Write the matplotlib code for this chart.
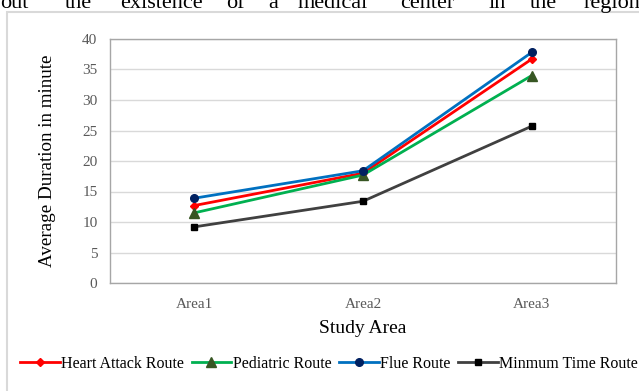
import matplotlib
matplotlib.use("Agg")
import matplotlib.pyplot as plt
from matplotlib.patches import Rectangle

areas = ["Area1", "Area2", "Area3"]
heart_attack = [12.7, 18.0, 36.7]
pediatric = [11.5, 17.7, 34.0]
flue = [13.9, 18.4, 37.8]
minimum_time = [9.2, 13.4, 25.7]
y_ticks = [0, 5, 10, 15, 20, 25, 30, 35, 40]

series = [
    ("Heart Attack Route", heart_attack, "#ff0000", "#ff0000", "D", 4.5),
    ("Pediatric Route", pediatric, "#00b050", "#375623", "^", 6.5),
    ("Flue Route", flue, "#0070c0", "#002060", "o", 5.5),
    ("Minmum Time Route", minimum_time, "#404040", "#000000", "s", 4.0),
]

plt.rcParams["font.family"] = ["Liberation Serif", "DejaVu Serif"]

fig = plt.figure(figsize=(6.39, 3.91), dpi=100)
fig.patch.set_facecolor("white")

# running text of the page above the chart, cut off at the top edge
words = [("out", 0), ("the", 65), ("existence", 120), ("of", 226), ("a", 268),
         ("medical", 298), ("center", 400), ("in", 489), ("the", 530), ("region", 584)]
for w, xp in words:
    fig.text(xp / 639, 1 - 8 / 391, w, fontsize=16, ha="left", va="baseline",
             color="black")

# chart frame
fig.patches.append(Rectangle((7 / 639, -0.05), 1.0, (391 - 12) / 391 + 0.05,
                             transform=fig.transFigure, fill=False,
                             edgecolor="#d9d9d9", linewidth=1.5))

ax = fig.add_axes([110 / 639, 1 - 283 / 391, (616 - 110) / 639, (283 - 39) / 391])
x = range(len(areas))
for name, vals, lc, mc, mk, ms in series:
    ax.plot(x, vals, color=lc, linewidth=2.0, marker=mk, markersize=ms,
            markerfacecolor=mc, markeredgecolor=mc, label=name, zorder=3)

ax.set_xlim(-0.5, len(areas) - 0.5)
ax.set_ylim(0, 40)
ax.set_yticks(y_ticks)
ax.set_xticks(list(x))
ax.set_xticklabels(areas)
ax.yaxis.grid(True, color="#d9d9d9", linewidth=1.0)
ax.set_axisbelow(True)
for s in ax.spines.values():
    s.set_color("#a6a6a6")
    s.set_linewidth(1.0)
ax.tick_params(axis="both", length=0, labelsize=11, colors="#595959")
ax.tick_params(axis="y", pad=9)
ax.tick_params(axis="x", pad=11)
ax.set_xlabel("Study Area", fontsize=14, color="black", labelpad=6)
ax.set_ylabel("Average Duration in minute", fontsize=13.7, color="black", labelpad=19)

leg = fig.legend(loc="center", bbox_to_anchor=(0.515, 1 - 364 / 391), ncol=4,
                 frameon=False, fontsize=11.5, handlelength=2.5, handletextpad=0.1,
                 columnspacing=0.45)

fig.savefig("out.png", dpi=100)
